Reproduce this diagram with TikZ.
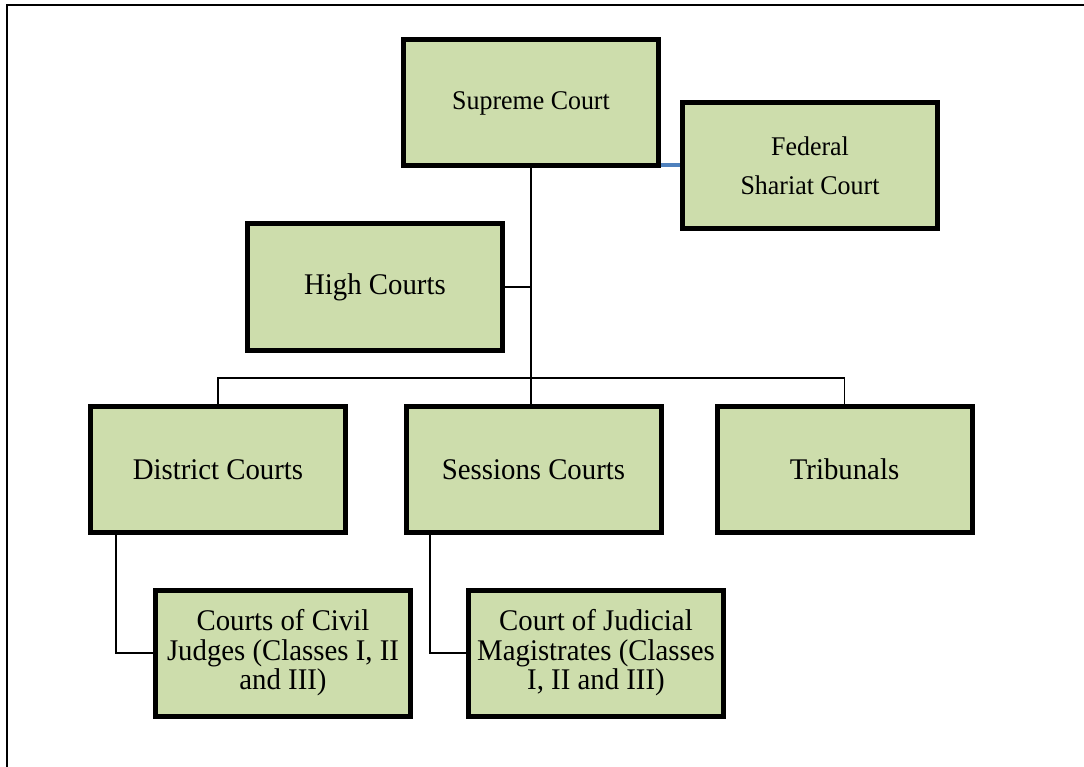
\documentclass[tikz,border=0pt]{standalone}
\usepackage{fontspec}
\setmainfont{Liberation Serif}[FakeStretch=0.96]
\usetikzlibrary{backgrounds}
\definecolor{boxfill}{RGB}{205,221,172}
\definecolor{linkblue}{RGB}{79,129,189}
\begin{document}
\begin{tikzpicture}[x=1pt,y=-1pt,
  court/.style={draw=black, line width=5pt, fill=boxfill, minimum width=255pt,
    minimum height=126pt, inner sep=0pt, align=center,
    font=\fontsize{30}{29.5}\selectfont},
  topcourt/.style={court, font=\fontsize{27}{39}\selectfont},
  link/.style={draw=black, line width=1.5pt},
  bluelink/.style={draw=linkblue, line width=4pt}]
\useasboundingbox (0,0) rectangle (1084,767);
\draw[line width=2.5pt] (7,767) -- (7,5) -- (1084,5);
\node[topcourt] (sc) at (531,103) {Supreme Court};
\node[topcourt] (fs) at (810,165.5) {Federal\\Shariat Court};
\node[court] (hc) at (375,287) {High Courts};
\node[court] (dc) at (218,469.5) {District Courts};
\node[court] (ss) at (533.5,469.5) {Sessions Courts};
\node[court] (tr) at (844.5,469.5) {Tribunals};
\node[court] (cj) at (283,653) {Courts of Civil\\Judges (Classes I, II\\and III)};
\node[court] (jm) at (596,653) {Court of Judicial\\Magistrates (Classes\\I, II and III)};
\coordinate (bus) at (531,378);
\coordinate (bl) at (0,165);
\begin{scope}[on background layer]
\draw[link] (sc.south) -- (sc.south |- ss.north);
\draw[link] (hc.east) -- (hc.east -| sc.south);
\draw[link] (dc.north) -- (dc.north |- bus) -- (tr.north |- bus) -- (tr.north);
\draw[link] ([xshift=-102pt]dc.south) |- (cj.west);
\draw[link] ([xshift=-103.5pt]ss.south) |- (jm.west);
\draw[bluelink] (sc.east |- bl) -- (fs.west |- bl);
\end{scope}
\end{tikzpicture}
\end{document}
